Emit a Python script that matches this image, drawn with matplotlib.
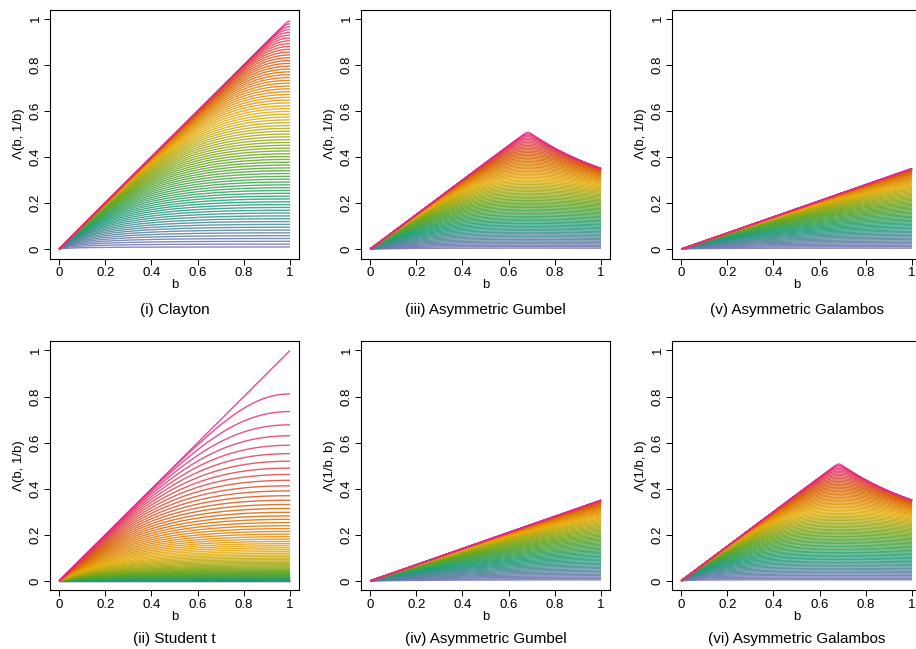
import numpy as np
import matplotlib
matplotlib.use('Agg')
import matplotlib.pyplot as plt
from matplotlib.colors import LinearSegmentedColormap

plt.rcParams['font.family'] = ['Liberation Sans', 'DejaVu Sans']

# --- parameters ---
ramp_colors = ['#7570B3', '#1B9E77', '#66A61E', '#E6AB02', '#D95F02', '#E7298A']
n_curves = 81
lam_grid = np.linspace(0.01, 0.99, n_curves)   # tail dependence coefficient at (1, 1)
rho_grid = np.linspace(-1.0, 1.0, n_curves)    # Student t correlation
t_nu = 4
psi_gumbel = (0.75, 0.35)
psi_galambos = (0.35, 0.75)
yticks = [0, 0.2, 0.4, 0.6, 0.8, 1]
ytick_labels = ['0', '0.2', '0.4', '0.6', '0.8', '1']

b = np.linspace(0.001, 1.0, 600)


def t_cdf(x, df):
    # closed form for odd degrees of freedom
    th = np.arctan(x / np.sqrt(df))
    s = np.zeros_like(th)
    if df > 1:
        term = np.cos(th)
        s = term.copy()
        for k in range(3, df - 1, 2):
            term = term * (k - 1) / k * np.cos(th) ** 2
            s = s + term
        s = s * np.sin(th)
    return 0.5 + (th + s) / np.pi


def clayton(lam, x, y):
    th = -np.log(2) / np.log(lam)
    return (x ** -th + y ** -th) ** (-1 / th)


def student_t(rho, x, y):
    if rho >= 1:
        return np.minimum(x, y)
    if rho <= -1:
        return np.zeros_like(x)
    k = np.sqrt((t_nu + 1) / (1 - rho ** 2))
    r = (x / y) ** (1 / t_nu)
    return x * t_cdf((rho - r) * k, t_nu + 1) + y * t_cdf((rho - 1 / r) * k, t_nu + 1)


def gumbel(lam, x, y, psi=psi_gumbel):
    th = 1 / np.log2(2 - lam)
    u, v = psi[0] * x, psi[1] * y
    hi, lo = np.maximum(u, v), np.minimum(u, v)
    return lo - hi * np.expm1(np.log1p((lo / hi) ** th) / th)


def galambos(lam, x, y, psi=psi_galambos):
    th = -np.log(2) / np.log(lam)
    u, v = psi[0] * x, psi[1] * y
    hi, lo = np.maximum(u, v), np.minimum(u, v)
    return lo * (1 + (lo / hi) ** th) ** (-1 / th)


# (title, ylabel, function, parameter grid, swap args, column, row)
panels = [
    ('(i) Clayton', 'Λ(b, 1/b)', clayton, lam_grid, False, 0, 0),
    ('(ii) Student t', 'Λ(b, 1/b)', student_t, rho_grid, False, 0, 1),
    ('(iii) Asymmetric Gumbel', 'Λ(b, 1/b)', gumbel, lam_grid, False, 1, 0),
    ('(iv) Asymmetric Gumbel', 'Λ(1/b, b)', gumbel, lam_grid, True, 1, 1),
    ('(v) Asymmetric Galambos', 'Λ(b, 1/b)', galambos, lam_grid, False, 2, 0),
    ('(vi) Asymmetric Galambos', 'Λ(1/b, b)', galambos, lam_grid, True, 2, 1),
]

W, H = 916, 649
fig = plt.figure(figsize=(W / 100, H / 100), dpi=100)
cmap = LinearSegmentedColormap.from_list('ramp', ramp_colors)
colors = cmap(np.linspace(0, 1, n_curves))

col_left = [49.8, 360.8, 671.8]
box_w = 249.5
row_top = [9.5, 341.2]
box_h = 249.0
xlab_y = [285, 617]
title_y = [310, 639]

for title, ylab, func, grid, swap, c, r in panels:
    ax = fig.add_axes([col_left[c] / W, 1 - (row_top[r] + box_h) / H, box_w / W, box_h / H])
    for i, p in enumerate(grid):
        with np.errstate(all='ignore'):
            vals = func(p, 1 / b, b) if swap else func(p, b, 1 / b)
        ax.plot(b, vals, color=colors[i], lw=1.0, alpha=0.85, solid_capstyle='butt')
    ax.set_xlim(-0.04, 1.04)
    ax.set_ylim(-0.04, 1.04)
    ax.set_xticks(yticks)
    ax.set_xticklabels(ytick_labels)
    ax.set_yticks(yticks)
    ax.set_yticklabels(ytick_labels, rotation=90, va='center')
    ax.tick_params(direction='out', length=4.5, width=0.7, pad=1.5, labelsize=9.5)
    for s in ax.spines.values():
        s.set_linewidth(0.8)
    ax.set_ylabel(ylab, fontsize=9.5, labelpad=3)
    cx = (col_left[c] + box_w / 2) / W
    fig.text(cx, 1 - xlab_y[r] / H, 'b', ha='center', va='center', fontsize=9.5)
    fig.text(cx, 1 - title_y[r] / H, title, ha='center', va='center', fontsize=11)

fig.savefig('out.png', dpi=100)
